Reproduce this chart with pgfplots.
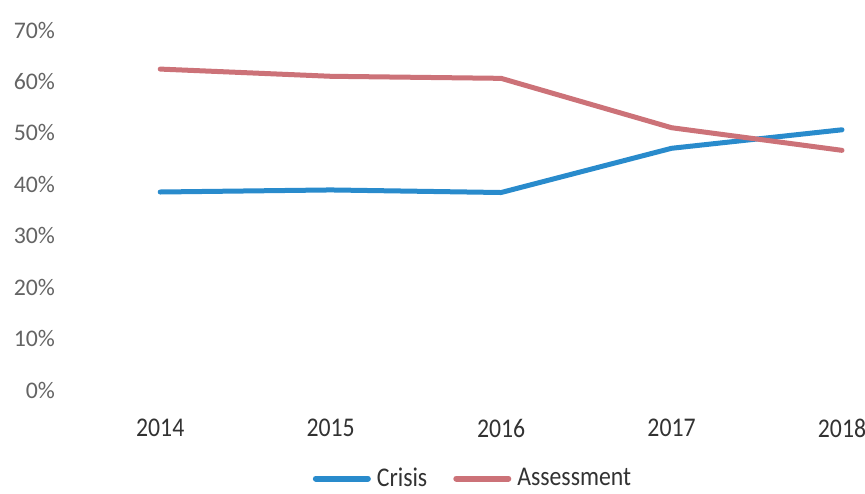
\documentclass[border=0pt]{standalone}
\usepackage{pgfplots}
\pgfplotsset{compat=1.18}
\usepackage{fontspec}
\setmainfont{Carlito}
\newfontfamily\narrowfont[FakeStretch=0.88]{Carlito}
\definecolor{crisisblue}{RGB}{41,139,204}
\definecolor{assessred}{RGB}{204,114,120}
\definecolor{ylab}{RGB}{100,100,100}
\definecolor{xlab}{RGB}{50,50,50}
\begin{document}
\begin{tikzpicture}
\useasboundingbox (0,0) rectangle (432.5pt,246.5pt);
\begin{axis}[
  at={(37.5pt,51.5pt)}, anchor=south west,
  scale only axis, width=395pt, height=180pt,
  xmin=2013.5, xmax=2018.135,
  ymin=0, ymax=70,
  axis line style={draw=none},
  xtick={2014,2015,2016,2017,2018},
  ytick={0,10,20,30,40,50,60,70},
  xticklabels={2014,2015,2016,2017,2018},
  yticklabel={\pgfmathprintnumber{\tick}\%},
  /pgf/number format/assume math mode=true,
  tick style={draw=none},
  yticklabel style={font=\fontsize{11.9}{13}\selectfont, text=ylab, xshift=-6.5pt},
  xticklabel style={font=\narrowfont\fontsize{13.5}{15}\selectfont, text=xlab, yshift=-11pt},
  clip=false,
  legend columns=2,
  legend style={draw=none, fill=none, at={(0.505,-0.246)}, anchor=center,
    inner sep=1pt,
    font=\narrowfont\fontsize{13.5}{15}\selectfont, text=xlab,
    /tikz/every odd column/.append style={column sep=1pt},
    /tikz/every even column/.append style={column sep=11pt}},
  legend image code/.code={\draw[#1, line width=3pt, line cap=round] (-1pt,0pt) -- (25pt,0pt);},
]
\addplot[crisisblue, line width=2.5pt, line join=round, line cap=round] coordinates {
  (2014,38.5) (2015,38.9) (2016,38.4) (2017,47.0) (2018,50.6)};
\addlegendentry{Crisis}
\addplot[assessred, line width=2.5pt, line join=round, line cap=round] coordinates {
  (2014,62.4) (2015,61.0) (2016,60.6) (2017,51.0) (2018,46.6)};
\addlegendentry{Assessment}
\end{axis}
\end{tikzpicture}
\end{document}
